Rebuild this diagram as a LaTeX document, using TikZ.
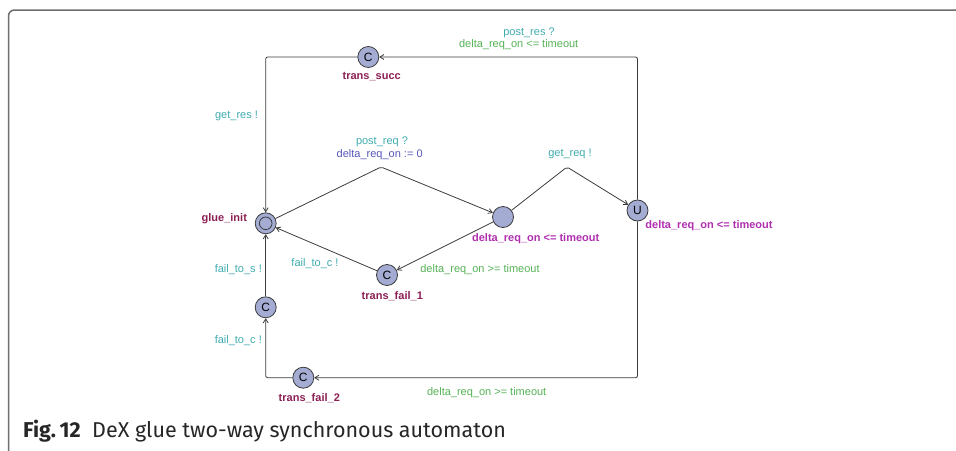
\documentclass[tikz,border=0pt]{standalone}
\usepackage{fontspec}
\setmainfont{Liberation Sans}
\newfontfamily\capfont{Fira Sans}
\usetikzlibrary{arrows.meta}
\definecolor{cyanl}{RGB}{64,172,176}
\definecolor{greenl}{RGB}{86,178,86}
\definecolor{bluel}{RGB}{88,88,184}
\definecolor{magl}{RGB}{176,48,176}
\definecolor{namel}{RGB}{140,32,84}
\definecolor{nodefill}{RGB}{164,172,212}
\definecolor{edgecol}{RGB}{60,60,60}
\definecolor{framecol}{RGB}{110,110,110}
\tikzset{
  locnode/.style={circle, draw=edgecol, fill=nodefill, line width=0.8pt, minimum size=21pt, inner sep=0pt, font=\fontsize{12}{12}\selectfont},
  transedge/.style={draw=edgecol, line width=0.8pt, -{Straight Barb[length=4pt,width=5pt]}, rounded corners=2pt},
  lablbl/.style={font=\fontsize{11}{12}\selectfont, inner sep=0pt, anchor=center},
  locname/.style={lablbl, text=namel, font=\bfseries\fontsize{11}{12}\selectfont},
  invlbl/.style={lablbl, text=magl, font=\bfseries\fontsize{11}{12}\selectfont},
  synclbl/.style={lablbl, text=cyanl},
  guardlbl/.style={lablbl, text=greenl},
  updlbl/.style={lablbl, text=bluel}
}
\begin{document}
\begin{tikzpicture}[x=1pt,y=-1pt]
\useasboundingbox (0,0) rectangle (956,450);
\clip (0,0) rectangle (956,450);
\fill[white] (0,0) rectangle (956,450);
\draw[framecol, line width=1.5pt, rounded corners=6pt] (8.5,480) -- (8.5,10) -- (990,10);

% locations
\node[locnode] (gi) at (265.7,223.3) {};
\draw[edgecol, line width=0.8pt] (gi) circle (6.3pt);
\node[locnode] (ts) at (368.3,57) {C};
\node[locnode] (mid) at (503,217) {};
\node[locnode] (U) at (637.5,210.5) {U};
\node[locnode] (tf1) at (387,275) {C};
\node[locnode] (c2) at (265.7,307.3) {C};
\node[locnode] (tf2) at (303.3,377.7) {C};

% bend points
\coordinate (b1) at (381,167);
\coordinate (b2) at (567,167);

% transitions
\draw[transedge] (U) |- (ts);
\draw[transedge] (ts) -| (gi);
\draw[transedge] (gi) -- (b1) -- (mid);
\draw[transedge] (mid) -- (b2) -- (U);
\draw[transedge] (mid) -- (tf1);
\draw[transedge] (tf1) -- (gi);
\draw[transedge] (c2) -- (gi);
\draw[transedge] (U) |- (tf2);
\draw[transedge] (tf2) -| (c2);

% names
\node[locname] (ngi) at (224.3,219) {glue\_init};
\node[locname] (nts) at (371.7,77) {trans\_succ};
\node[locname] (ntf1) at (392.3,296) {trans\_fail\_1};
\node[locname] (ntf2) at (309.3,398.3) {trans\_fail\_2};

% invariants
\node[invlbl] (imid) at (535.7,238.3) {delta\_req\_on <= timeout};
\node[invlbl] (iU) at (709,225.3) {delta\_req\_on <= timeout};

% labels
\node[synclbl] (l1) at (529,32.3) {post\_res ?};
\node[guardlbl] (l2) at (518.7,44.3) {delta\_req\_on <= timeout};
\node[synclbl] (l3) at (236.5,116) {get\_res !};
\node[synclbl] (l4) at (382,141.7) {post\_req ?};
\node[updlbl] (l5) at (379.7,154.3) {delta\_req\_on := 0};
\node[synclbl] (l6) at (570,154.3) {get\_req !};
\node[synclbl] (l7) at (238.3,270) {fail\_to\_s !};
\node[synclbl] (l8) at (315,263.3) {fail\_to\_c !};
\node[guardlbl] (l9) at (480,270) {delta\_req\_on >= timeout};
\node[synclbl] (l10) at (238.3,341) {fail\_to\_c !};
\node[guardlbl] (l11) at (486.7,392.7) {delta\_req\_on >= timeout};

% caption
\node[anchor=base west, inner sep=0pt, font=\capfont\fontsize{21.5}{25}\selectfont, text=black!85] (cap) at (23,437.7) {\textbf{Fig.\,12}\ \ DeX glue two-way synchronous automaton};
\end{tikzpicture}
\end{document}
